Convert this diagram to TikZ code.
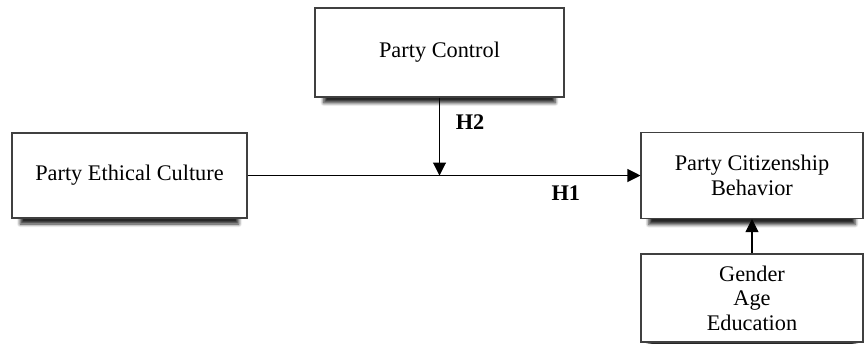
\documentclass[tikz,border=0pt]{standalone}
\usepackage{fontspec}
\setmainfont{Liberation Serif}
\usetikzlibrary{shapes,arrows.meta,positioning,shadows.blur,calc}

\begin{document}
\begin{tikzpicture}[
    box/.style={rectangle, draw=black!75, line width=0.6pt, fill=white, align=center,
        font=\fontsize{12.7}{14}\selectfont,
        blur shadow={shadow xshift=0pt, shadow yshift=-5.5pt, shadow scale=0.93,
            shadow blur steps=6, shadow blur radius=2pt, shadow opacity=85}},
    link/.style={line width=0.6pt, -{Triangle[length=2.6mm, width=2.6mm]}},
    hyp/.style={font=\fontsize{12.7}{15}\selectfont\bfseries}
]
    \useasboundingbox (0,0) rectangle (17.28,-6.86);
    \node[box, minimum width=4.98cm, minimum height=1.78cm] (control) at (8.79,-1.05) {Party Control};
    \node[box, minimum width=4.70cm, minimum height=1.70cm] (ethical) at (2.59,-3.51) {Party Ethical Culture};
    \node[box, minimum width=4.44cm, minimum height=1.72cm] (pcb) at (15.04,-3.51) {Party Citizenship \\ Behavior};
    \node[box, minimum width=4.44cm, minimum height=1.76cm] (demo) at (15.04,-5.96) {Gender \\ Age \\ Education};

    \coordinate (meet) at (control.south |- ethical.east);
    \draw[link] (ethical.east) -- (pcb.west) node[pos=0.81, below=2pt, hyp] {H1};
    \draw[link] (control.south) -- (meet) node[pos=0.32, right=0.2cm, hyp] {H2};
    \draw[link] (demo.north) -- (pcb.south);
\end{tikzpicture}
\end{document}
